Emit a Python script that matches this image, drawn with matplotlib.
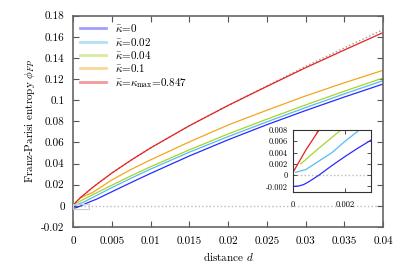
import matplotlib
matplotlib.use('Agg')
import matplotlib.pyplot as plt
from matplotlib.patches import Rectangle
from matplotlib.lines import Line2D

plt.rcParams['font.family'] = 'serif'
plt.rcParams['font.serif'] = ['cmr10']
plt.rcParams['mathtext.fontset'] = 'cm'
plt.rcParams['axes.unicode_minus'] = False

# curves: distance d and Franz-Parisi entropy, one pair per kappa
d_k0 = [0, 0.0002, 0.0004, 0.0006, 0.0008, 0.001, 0.0015, 0.002, 0.0025, 0.003,
        0.005, 0.0075, 0.01, 0.015, 0.02, 0.025, 0.03, 0.035, 0.04]
phi_k0 = [-0.002, -0.00195, -0.0017, -0.0012, -0.0006, 0.0, 0.0017, 0.0033, 0.0048, 0.0062,
          0.0133, 0.0221, 0.0307, 0.0472, 0.0625, 0.0768, 0.0902, 0.1030, 0.1153]

d_k002 = [0.0001, 0.0005, 0.001, 0.0015, 0.002, 0.0025, 0.005, 0.0075, 0.01, 0.015,
          0.02, 0.025, 0.03, 0.035, 0.04]
phi_k002 = [0.0005, 0.001, 0.0025, 0.004, 0.006, 0.0078, 0.0172, 0.0262, 0.0348, 0.0508,
            0.0655, 0.0795, 0.093, 0.106, 0.1185]

d_k004 = [0.0003, 0.001, 0.002, 0.005, 0.0075, 0.01, 0.015, 0.02, 0.025, 0.03, 0.035, 0.04]
phi_k004 = [0.002, 0.0048, 0.0086, 0.0195, 0.0285, 0.037, 0.053, 0.068, 0.082, 0.0955, 0.1085, 0.121]

d_k01 = [0.0009, 0.0025, 0.005, 0.0075, 0.01, 0.015, 0.02, 0.025, 0.03, 0.035, 0.04]
phi_k01 = [0.0076, 0.0125, 0.0245, 0.0345, 0.0435, 0.0605, 0.0765, 0.0905, 0.1040, 0.1165, 0.1283]

d_kmax = [0, 0.0005, 0.001, 0.0025, 0.005, 0.0075, 0.01, 0.015, 0.02, 0.025, 0.03, 0.035, 0.04]
phi_kmax = [0.0005, 0.0045, 0.008, 0.0173, 0.031, 0.0433, 0.0548, 0.0758, 0.095, 0.113, 0.1307, 0.1475, 0.164]

# grey dotted reference curve next to kappa_max
d_ref = [0, 0.0005, 0.001, 0.0025, 0.005, 0.0075, 0.01, 0.015, 0.02, 0.025, 0.03, 0.035, 0.04]
phi_ref = [0.0005, 0.0045, 0.008, 0.0173, 0.031, 0.0433, 0.0548, 0.0758, 0.095, 0.1135, 0.132, 0.1495, 0.1668]

labels = [r'$\bar{\kappa}$=0', r'$\bar{\kappa}$=0.02', r'$\bar{\kappa}$=0.04',
          r'$\bar{\kappa}$=0.1', r'$\bar{\kappa}$=$\kappa_{\rm max}$=0.847']
colors = ['#2a2aff', '#55bbf0', '#a8d42a', '#f5a51e', '#e8201e']

xticks = [0, 0.005, 0.01, 0.015, 0.02, 0.025, 0.03, 0.035, 0.04]
xticklabels = ['0', '0.005', '0.01', '0.015', '0.02', '0.025', '0.03', '0.035', '0.04']
yticks = [-0.02, 0, 0.02, 0.04, 0.06, 0.08, 0.1, 0.12, 0.14, 0.16, 0.18]
yticklabels = ['-0.02', '0', '0.02', '0.04', '0.06', '0.08', '0.1', '0.12', '0.14', '0.16', '0.18']

ins_xticks = [0, 0.002]
ins_xticklabels = ['0', '0.002']
ins_yticks = [-0.002, 0, 0.002, 0.004, 0.006, 0.008]
ins_yticklabels = ['-0.002', '0', '0.002', '0.004', '0.006', '0.008']

series = [(d_k0, phi_k0), (d_k002, phi_k002), (d_k004, phi_k004), (d_k01, phi_k01), (d_kmax, phi_kmax)]

fig = plt.figure(figsize=(4.07, 2.71), dpi=100)
ax = fig.add_axes([0.1794, 0.1624, 0.7617, 0.7797])

ax.plot([0, 0.04], [0, 0], ':', color='#bbbbbb', lw=1.0, zorder=1)
ax.plot(d_ref, phi_ref, ':', color='#999999', lw=1.0, zorder=1)
for (dd, pp), c in zip(series, colors):
    ax.plot(dd, pp, '-', color=c, lw=0.9, zorder=2)
ax.add_patch(Rectangle((0, -0.0025), 0.002, 0.004, fill=False, edgecolor='#cccccc', lw=0.8, zorder=3))

ax.set_xlim(0, 0.04)
ax.set_ylim(-0.02, 0.18)
ax.set_xticks(xticks)
ax.set_xticklabels(xticklabels)
ax.set_yticks(yticks)
ax.set_yticklabels(yticklabels)
ax.tick_params(direction='in', top=True, right=True, length=4, width=0.8, color='#555555', labelsize=8)
ax.tick_params(axis='x', pad=7)
ax.tick_params(axis='y', pad=6)
for s in ax.spines.values():
    s.set_color('#666666')
    s.set_linewidth(1.2)
ax.set_xlabel('distance $d$', fontsize=8, labelpad=3)
ax.set_ylabel(r'Franz-Parisi entropy $\phi_{FP}$', fontsize=8, labelpad=3)

handles = [Line2D([0], [0], color=c, lw=2, alpha=0.45) for c in colors]
ax.legend(handles, labels, loc='upper left', bbox_to_anchor=(0.0, 1.0), frameon=False, fontsize=8,
          handlelength=2.4, handletextpad=0.8, labelspacing=0.12, borderaxespad=0.2)

# inset near the origin
ins = fig.add_axes([0.720, 0.2915, 0.1916, 0.2288])
ins.plot([0, 0.003], [0, 0], ':', color='#bbbbbb', lw=1.0, zorder=1)
for (dd, pp), c in zip(series, colors):
    ins.plot(dd, pp, '-', color=c, lw=0.9, zorder=2)
ins.set_xlim(0, 0.003)
ins.set_ylim(-0.003, 0.008)
ins.set_xticks(ins_xticks)
ins.set_xticklabels(ins_xticklabels)
ins.set_yticks(ins_yticks)
ins.set_yticklabels(ins_yticklabels)
ins.tick_params(direction='in', top=True, right=True, length=3, width=0.6, color='#333333', labelsize=6)
ins.tick_params(axis='x', pad=6)
ins.tick_params(axis='y', pad=4)
for s in ins.spines.values():
    s.set_color('#333333')
    s.set_linewidth(0.8)

fig.savefig('out.png', dpi=100)
